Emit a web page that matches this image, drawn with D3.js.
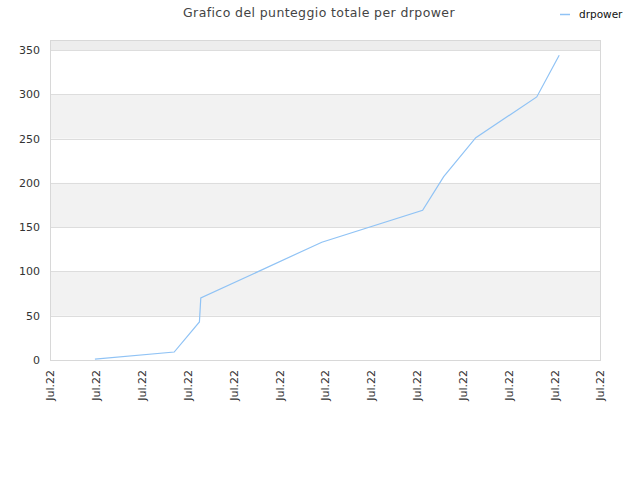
<!DOCTYPE html>
<html><head><meta charset="utf-8">
<script src="https://cdn.jsdelivr.net/npm/d3@7"></script>
<style>body{margin:0;background:#fff;} svg{display:block;font-family:"DejaVu Sans",sans-serif;}</style>
</head><body>
<script>
const title = "Grafico del punteggio totale per drpower";
const seriesName = "drpower";
const tickLabels = ["Jul.22","Jul.22","Jul.22","Jul.22","Jul.22","Jul.22","Jul.22","Jul.22","Jul.22","Jul.22","Jul.22","Jul.22","Jul.22"];
const xPos = [0.98, 2.71, 3.26, 3.29, 5.93, 8.13, 8.59, 9.29, 10.62, 11.11];
const values = [1, 9, 43, 70, 133, 169, 207, 251, 297, 344];
const yTicks = [0,50,100,150,200,250,300,350];

const W=640,H=480, m={l:50,r:40,t:40,b:120};
const svg=d3.select("body").append("svg").attr("width",W).attr("height",H);
const x=d3.scaleLinear().domain([0,12]).range([m.l,W-m.r]);
const y=d3.scaleLinear().domain([0,361.3]).range([H-m.b,m.t]);

// bands
const bandEdges=[...yTicks, 361.3];
for(let i=0;i<bandEdges.length-1;i++){
  if(i%2===1){
    svg.append("rect").attr("x",x(0)).attr("width",x(12)-x(0))
      .attr("y",y(bandEdges[i+1])).attr("height",y(bandEdges[i])-y(bandEdges[i+1]))
      .attr("fill", i===bandEdges.length-2 ? "#ededed" : "#f2f2f2");
  }
}
// grid
svg.append("g").selectAll("line").data(yTicks).join("line")
  .attr("x1",x(0)).attr("x2",x(12)).attr("y1",d=>Math.round(y(d))+0.5).attr("y2",d=>Math.round(y(d))+0.5)
  .attr("stroke","#dddddd");
// border
svg.append("rect").attr("x",x(0)+0.5).attr("y",y(361.3)+0.5).attr("width",x(12)-x(0)).attr("height",y(0)-y(361.3))
  .attr("fill","none").attr("stroke","#d8d8d8");

// y axis
const ya=svg.append("g").attr("transform",`translate(${x(0)},0)`)
  .call(d3.axisLeft(y).tickValues(yTicks).tickSize(0).tickPadding(10));
ya.select(".domain").remove();
ya.selectAll("text").attr("font-size","11px").attr("fill","#333").attr("font-family","DejaVu Sans, sans-serif");

// x axis
const xa=svg.append("g").attr("transform",`translate(0,${y(0)})`)
  .call(d3.axisBottom(x).tickValues(d3.range(13)).tickFormat((d,i)=>tickLabels[i]).tickSize(0));
xa.select(".domain").remove();
xa.selectAll("text").attr("font-size","11px").attr("fill","#333").attr("font-family","DejaVu Sans, sans-serif")
  .attr("text-anchor","end").attr("dy","0.35em").attr("transform","translate(0,10) rotate(-90)").attr("x",0).attr("y",0);

// line
const pts=xPos.map((d,i)=>[d,values[i]]);
svg.append("path").datum(pts).attr("fill","none").attr("stroke","#90c3f5").attr("stroke-width",1.2)
  .attr("d",d3.line().x(d=>x(d[0])).y(d=>y(d[1])));

// title
svg.append("text").attr("x",319).attr("y",17).attr("text-anchor","middle")
  .attr("font-size","12.5px").attr("fill","#444").attr("letter-spacing","0.4px").text(title);
// legend
svg.append("line").attr("x1",560).attr("x2",570).attr("y1",14.5).attr("y2",14.5).attr("stroke","#90c3f5").attr("stroke-width",1.5);
svg.append("text").attr("x",579).attr("y",18).attr("font-size","10.5px").attr("fill","#111").text(seriesName);
</script>
</body></html>
